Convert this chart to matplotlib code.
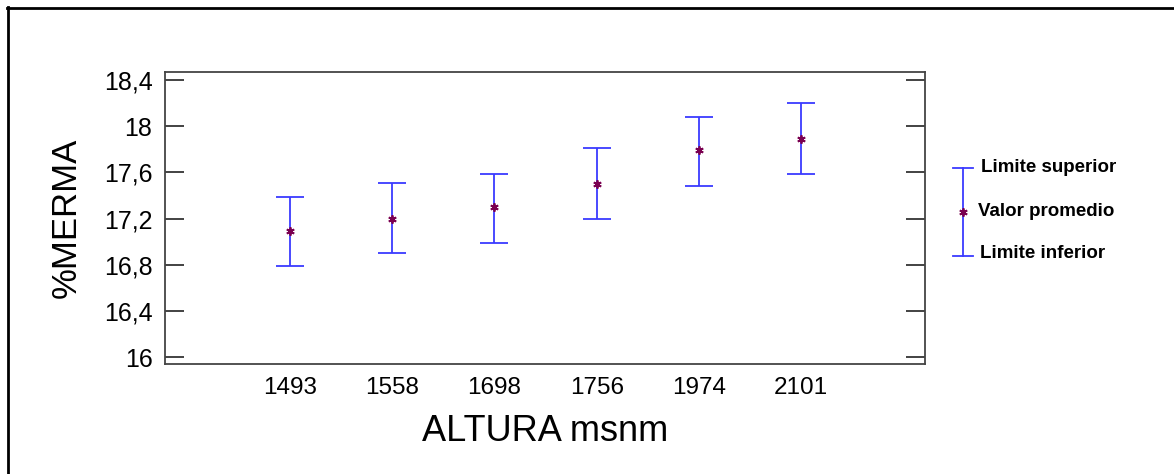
import matplotlib
matplotlib.use("Agg")
import matplotlib.pyplot as plt
from matplotlib.lines import Line2D
from matplotlib.ticker import FuncFormatter

altura = ["1493", "1558", "1698", "1756", "1974", "2101"]
promedio = [17.09, 17.20, 17.30, 17.50, 17.79, 17.89]
lim_sup = [17.39, 17.51, 17.59, 17.81, 18.08, 18.20]
lim_inf = [16.79, 16.90, 16.99, 17.20, 17.48, 17.59]
yticks = [16.0, 16.4, 16.8, 17.2, 17.6, 18.0, 18.4]
legend_labels = ["Limite superior", "Valor promedio", "Limite inferior"]

plt.rcParams['font.family'] = ['Liberation Sans', 'DejaVu Sans']

W, H = 1174, 474
fig = plt.figure(figsize=(W / 100, H / 100), dpi=100)
ax = fig.add_axes([165 / W, 1 - 364 / H, (925 - 165) / W, (364 - 72) / H])

x = list(range(len(altura)))
err_lo = [m - l for m, l in zip(promedio, lim_inf)]
err_hi = [u - m for m, u in zip(promedio, lim_sup)]
ax.errorbar(x, promedio, yerr=[err_lo, err_hi], fmt='none', ecolor='#3a3aff',
            elinewidth=1.3, capsize=10, capthick=1.3)
ax.plot(x, promedio, linestyle='none', marker=(6, 2, 0), markersize=6,
        color='#7a0050', markeredgewidth=1.3)

ax.set_xlim(-1.22, 6.21)
ax.set_ylim(15.94, 18.47)
ax.set_xticks(x)
ax.set_xticklabels(altura, fontsize=17.5)
ax.tick_params(axis='x', length=0, pad=9)
ax.set_yticks(yticks)
ax.yaxis.set_major_formatter(FuncFormatter(lambda v, p: ("%g" % round(v, 1)).replace('.', ',')))
ax.tick_params(axis='y', direction='in', length=14, width=1.2, labelsize=18,
               left=True, right=True, pad=9, color='#222222')
for s in ax.spines.values():
    s.set_linewidth(1.3)
    s.set_color('#444444')

ax.set_ylabel("%MERMA", fontsize=25, labelpad=15)
ax.set_xlabel("ALTURA msnm", fontsize=26, labelpad=11)

# legend drawn manually in figure pixel coords
def fx(px):
    return px / W

def fy(py):
    return 1 - py / H

lx = 963
fig.add_artist(Line2D([fx(lx), fx(lx)], [fy(168), fy(256)], color='#3a3aff', lw=1.3))
fig.add_artist(Line2D([fx(lx - 10), fx(lx + 10)], [fy(168), fy(168)], color='#3a3aff', lw=1.3))
fig.add_artist(Line2D([fx(lx - 10), fx(lx + 10)], [fy(256), fy(256)], color='#3a3aff', lw=1.3))
fig.add_artist(Line2D([fx(lx)], [fy(212)], linestyle='none', marker=(6, 2, 0), markersize=6,
                      color='#7a0050', markeredgewidth=1.3))
for lab, py, px in zip(legend_labels, [168, 212, 254], [981, 978, 980]):
    fig.text(fx(px), fy(py), lab, fontsize=13.5, fontweight='bold', ha='left', va='center')

# partial frame border
fig.add_artist(Line2D([fx(7), fx(W)], [fy(7.5), fy(7.5)], color='black', lw=2))
fig.add_artist(Line2D([fx(7.5), fx(7.5)], [fy(7), fy(H)], color='black', lw=2))

fig.savefig("out.png", dpi=100)
